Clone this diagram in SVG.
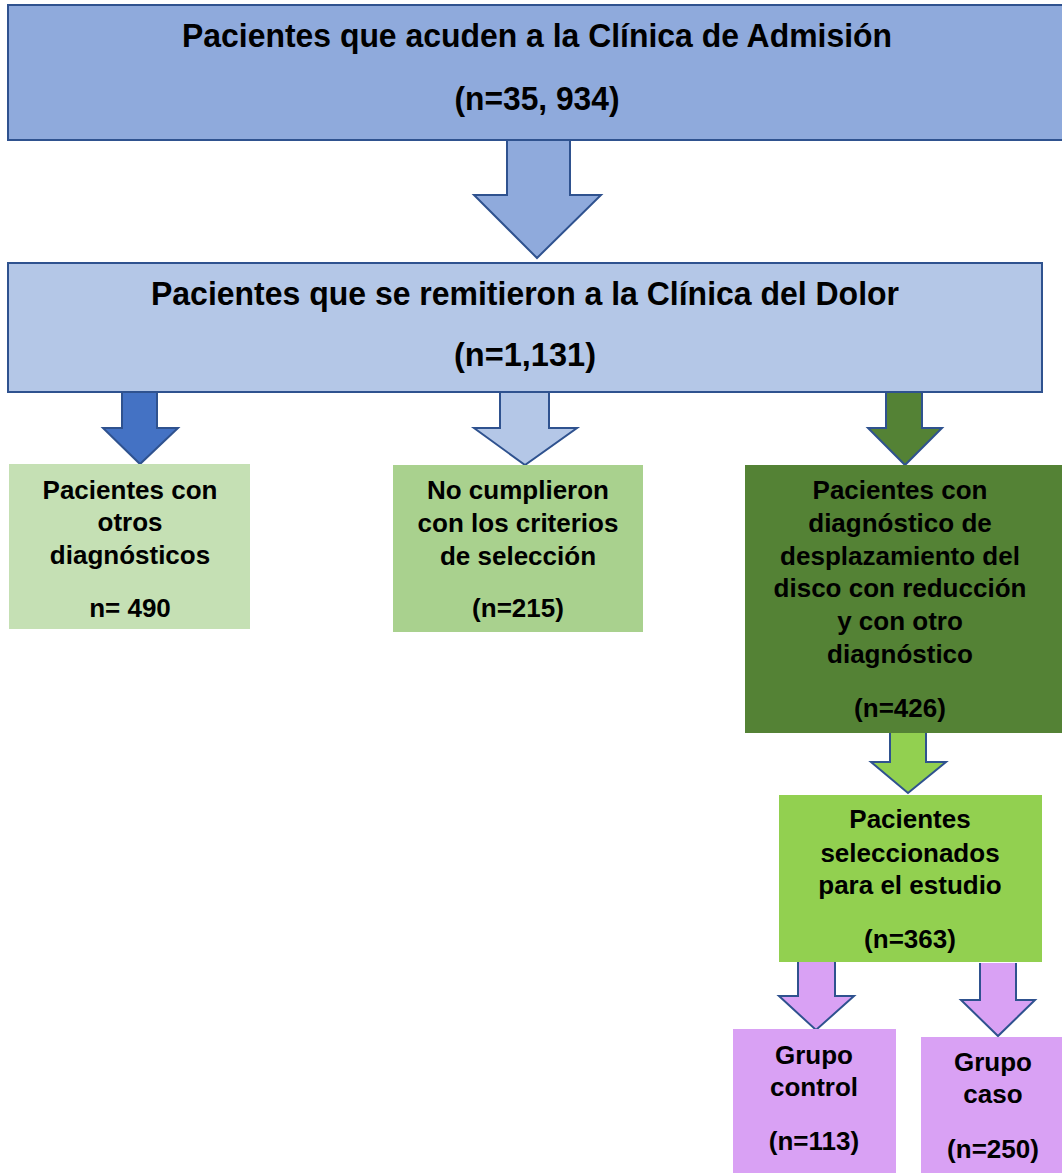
<svg xmlns="http://www.w3.org/2000/svg" width="1062" height="1173" viewBox="0 0 1062 1173">
<style>
.big{font-family:"Liberation Sans",Arial,sans-serif;font-weight:bold;font-size:33px;fill:#000;text-anchor:middle}
.sm{font-family:"Liberation Sans",Arial,sans-serif;font-weight:bold;font-size:26px;fill:#000;text-anchor:middle}
.arr{stroke:#2F528F;stroke-width:2;stroke-linejoin:miter}
</style>
<rect width="1062" height="1173" fill="#fff"/>
<g id="connectors">
<path class="arr" fill="#8FAADC" d="M507,140 V195 H474 L537,258 L601,195 H570 V140"/>
<path class="arr" fill="#4472C4" d="M122,392 V428 H103 L140,464 L178,428 H157 V392 Z"/>
<path class="arr" fill="#B4C7E7" d="M500,392 V428 H474 L525,465 L577,428 H549 V392"/>
<path class="arr" fill="#548235" d="M886,392 V428 H868 L905,465 L942,428 H922 V392 Z"/>
<path class="arr" fill="#92D050" d="M890,733 V762 H871 L908,793 L946,762 H926 V733"/>
<path class="arr" fill="#D9A1F4" d="M798,962 V996 H779 L816,1030 L854,996 H835 V962"/>
<path class="arr" fill="#D9A1F4" d="M980,963 V1000 H961 L998,1036 L1035,1000 H1016 V963"/>
</g>
<g id="n1">
<rect x="8" y="5" width="1062" height="135" fill="#8FAADC" stroke="#2F528F" stroke-width="2"/>
<text class="big" x="537" y="47" textLength="710" lengthAdjust="spacingAndGlyphs">Pacientes que acuden a la Clínica de Admisión</text>
<text class="big" x="537" y="110" textLength="165" lengthAdjust="spacingAndGlyphs">(n=35, 934)</text>
</g>
<g id="n2">
<rect x="8" y="263" width="1034" height="129" fill="#B4C7E7" stroke="#2F528F" stroke-width="2"/>
<text class="big" x="525" y="305" textLength="748" lengthAdjust="spacingAndGlyphs">Pacientes que se remitieron a la Clínica del Dolor</text>
<text class="big" x="525" y="366" textLength="142" lengthAdjust="spacingAndGlyphs">(n=1,131)</text>
</g>
<g id="n3">
<rect x="9" y="464" width="241" height="165" fill="#C5E0B4"/>
<text class="sm" x="130" y="499">Pacientes con</text>
<text class="sm" x="130" y="531">otros</text>
<text class="sm" x="130" y="564">diagnósticos</text>
<text class="sm" x="130" y="617">n= 490</text>
</g>
<g id="n4">
<rect x="393" y="465" width="250" height="167" fill="#A9D18E"/>
<text class="sm" x="518" y="499">No cumplieron</text>
<text class="sm" x="518" y="532">con los criterios</text>
<text class="sm" x="518" y="565">de selección</text>
<text class="sm" x="518" y="617">(n=215)</text>
</g>
<g id="n5">
<rect x="745" y="465" width="317" height="268" fill="#548235"/>
<text class="sm" x="900" y="499">Pacientes con</text>
<text class="sm" x="900" y="532">diagnóstico de</text>
<text class="sm" x="900" y="565">desplazamiento del</text>
<text class="sm" x="900" y="597">disco con reducción</text>
<text class="sm" x="900" y="630">y con otro</text>
<text class="sm" x="900" y="663">diagnóstico</text>
<text class="sm" x="900" y="717">(n=426)</text>
</g>
<g id="n6">
<rect x="779" y="795" width="263" height="167" fill="#92D050"/>
<text class="sm" x="910" y="828">Pacientes</text>
<text class="sm" x="910" y="862">seleccionados</text>
<text class="sm" x="910" y="894">para el estudio</text>
<text class="sm" x="910" y="948">(n=363)</text>
</g>
<g id="n7">
<rect x="733" y="1029" width="163" height="144" fill="#D9A1F4"/>
<text class="sm" x="814" y="1064">Grupo</text>
<text class="sm" x="814" y="1096">control</text>
<text class="sm" x="814" y="1150">(n=113)</text>
</g>
<g id="n8">
<rect x="921" y="1037" width="141" height="136" fill="#D9A1F4"/>
<text class="sm" x="993" y="1071">Grupo</text>
<text class="sm" x="993" y="1103">caso</text>
<text class="sm" x="993" y="1158">(n=250)</text>
</g>
</svg>
